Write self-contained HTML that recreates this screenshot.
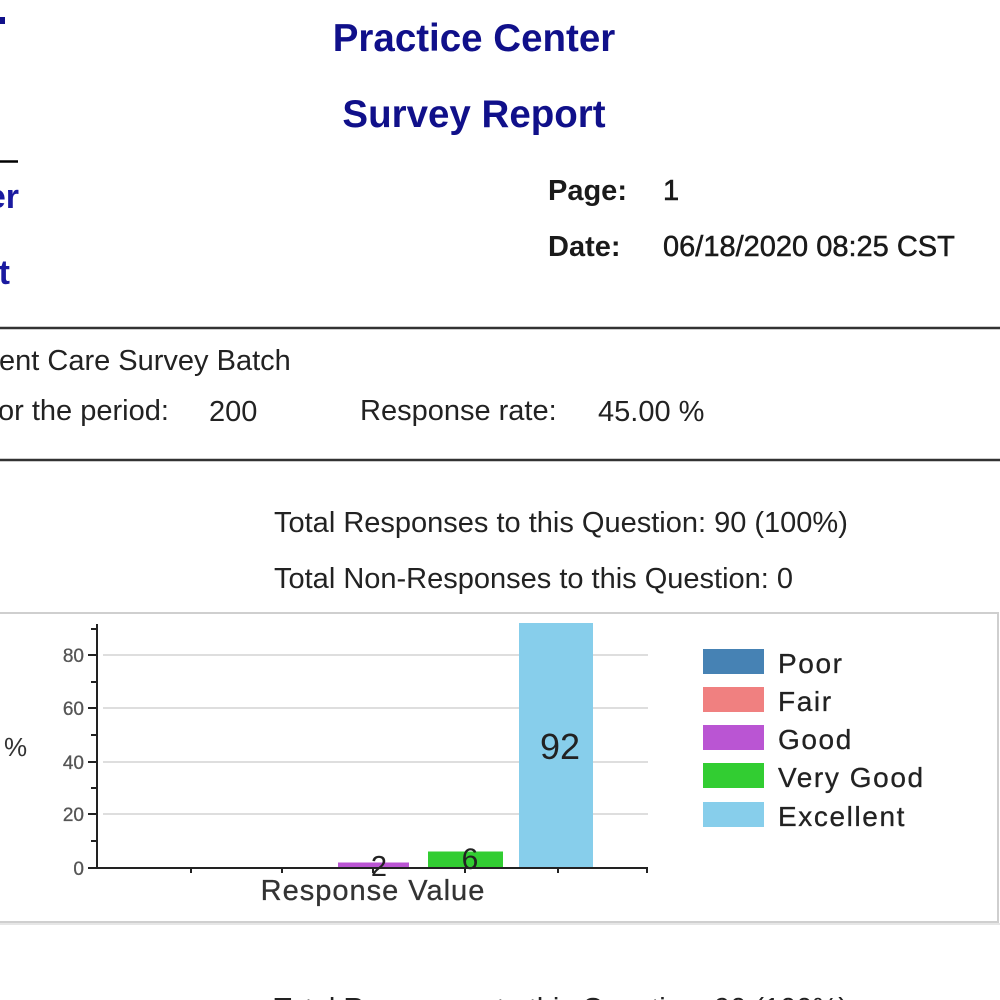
<!DOCTYPE html>
<html><head><meta charset="utf-8"><style>
html,body{margin:0;padding:0;background:#fff;width:1000px;height:1000px;overflow:hidden}
svg{display:block}
text{font-family:"Liberation Sans",Arial,sans-serif}
</style></head><body>
<svg width="1000" height="1000" viewBox="0 0 1000 1000" xmlns="http://www.w3.org/2000/svg">
<rect width="1000" height="1000" fill="#fff"/>
<!-- titles -->
<text x="474" y="51" text-anchor="middle" font-size="38.5" font-weight="bold" fill="#10108a">Practice Center</text>
<text x="474" y="127" text-anchor="middle" font-size="38.5" font-weight="bold" fill="#10108a">Survey Report</text>
<!-- left partial -->
<rect x="0" y="17" width="5" height="7" fill="#10108a"/>
<line x1="0" y1="161.5" x2="18" y2="161.5" stroke="#000" stroke-width="2.5"/>
<text x="19" y="208" text-anchor="end" font-size="34" font-weight="bold" fill="#1a1aa0">er</text>
<text x="10" y="284" text-anchor="end" font-size="34" font-weight="bold" fill="#1a1aa0">t</text>
<!-- page/date -->
<text x="548" y="200" font-size="29" font-weight="bold" fill="#1a1a1a">Page:</text>
<text x="663" y="200" font-size="29" fill="#1a1a1a" stroke="#1a1a1a" stroke-width="0.6">1</text>
<text x="548" y="256" font-size="29" font-weight="bold" fill="#1a1a1a">Date:</text>
<text x="663" y="256" font-size="29" fill="#1a1a1a" stroke="#1a1a1a" stroke-width="0.5">06/18/2020 08:25 CST</text>
<!-- rules -->
<line x1="0" y1="328" x2="1000" y2="328" stroke="#333" stroke-width="2.5"/>
<line x1="0" y1="460" x2="1000" y2="460" stroke="#333" stroke-width="2.5"/>
<!-- info -->
<text x="-1" y="370" font-size="29" fill="#222">ent Care Survey Batch</text>
<text x="-2" y="420" font-size="29" fill="#222">or the period:</text>
<text x="209" y="421" font-size="29" fill="#222">200</text>
<text x="360" y="420" font-size="29" fill="#222">Response rate:</text>
<text x="598" y="421" font-size="29" fill="#222">45.00 %</text>
<text x="274" y="532" font-size="29" fill="#222">Total Responses to this Question: 90 (100%)</text>
<text x="274" y="588" font-size="29" fill="#222">Total Non-Responses to this Question: 0</text>
<!-- chart box -->
<rect x="-5" y="613" width="1003" height="309" fill="#fff" stroke="#cfcfcf" stroke-width="2"/>
<line x1="0" y1="924" x2="1000" y2="924" stroke="#e6e6e6" stroke-width="2"/>
<!-- gridlines -->
<g stroke="#dedede" stroke-width="2">
<line x1="103" y1="814" x2="648" y2="814"/>
<line x1="103" y1="762" x2="648" y2="762"/>
<line x1="103" y1="708" x2="648" y2="708"/>
<line x1="103" y1="655" x2="648" y2="655"/>
</g>
<!-- bars -->
<rect x="338" y="862.5" width="71" height="5.5" fill="#BA55D3"/>
<rect x="428" y="851.5" width="75" height="16.5" fill="#32CD32"/>
<rect x="519" y="623" width="74" height="245" fill="#87CEEB"/>
<!-- axes -->
<g stroke="#222" stroke-width="2">
<line x1="97" y1="624" x2="97" y2="869"/>
<line x1="96" y1="868" x2="648" y2="868"/>
<line x1="88" y1="868" x2="97" y2="868"/>
<line x1="88" y1="814" x2="97" y2="814"/>
<line x1="88" y1="762" x2="97" y2="762"/>
<line x1="88" y1="708" x2="97" y2="708"/>
<line x1="88" y1="655" x2="97" y2="655"/>
<line x1="91" y1="841" x2="97" y2="841"/>
<line x1="91" y1="788" x2="97" y2="788"/>
<line x1="91" y1="735" x2="97" y2="735"/>
<line x1="91" y1="682" x2="97" y2="682"/>
<line x1="91" y1="629" x2="97" y2="629"/>
<line x1="191" y1="868" x2="191" y2="873"/>
<line x1="282" y1="868" x2="282" y2="873"/>
<line x1="373" y1="868" x2="373" y2="873"/>
<line x1="465" y1="868" x2="465" y2="873"/>
<line x1="558" y1="868" x2="558" y2="873"/>
<line x1="647" y1="868" x2="647" y2="873"/>
</g>
<g font-size="19" fill="#555" stroke="#555" stroke-width="0.3" text-anchor="end">
<text x="84" y="875">0</text>
<text x="84" y="821">20</text>
<text x="84" y="769">40</text>
<text x="84" y="715">60</text>
<text x="84" y="662">80</text>
</g>
<text x="4" y="756" font-size="26" fill="#333">%</text>
<text x="373" y="900" text-anchor="middle" font-size="29" fill="#333" stroke="#333" stroke-width="0.3" letter-spacing="1">Response Value</text>
<!-- data labels -->
<text x="379" y="876" text-anchor="middle" font-size="29" fill="#222">2</text>
<text x="470" y="869" text-anchor="middle" font-size="30" fill="#222">6</text>
<text x="560" y="759" text-anchor="middle" font-size="36" fill="#222">92</text>
<!-- legend -->
<rect x="703" y="649" width="61" height="25" fill="#4682B4"/>
<rect x="703" y="687" width="61" height="25" fill="#F08080"/>
<rect x="703" y="725" width="61" height="25" fill="#BA55D3"/>
<rect x="703" y="763" width="61" height="25" fill="#32CD32"/>
<rect x="703" y="802" width="61" height="25" fill="#87CEEB"/>
<g font-size="28" fill="#222" stroke="#222" stroke-width="0.3" letter-spacing="1.6">
<text x="778" y="673">Poor</text>
<text x="778" y="711">Fair</text>
<text x="778" y="749">Good</text>
<text x="778" y="787">Very Good</text>
<text x="778" y="826">Excellent</text>
</g>
<!-- bottom partial -->
<text x="274" y="1018" font-size="29" fill="#222">Total Responses to this Question: 90 (100%)</text>
</svg>
</body></html>
